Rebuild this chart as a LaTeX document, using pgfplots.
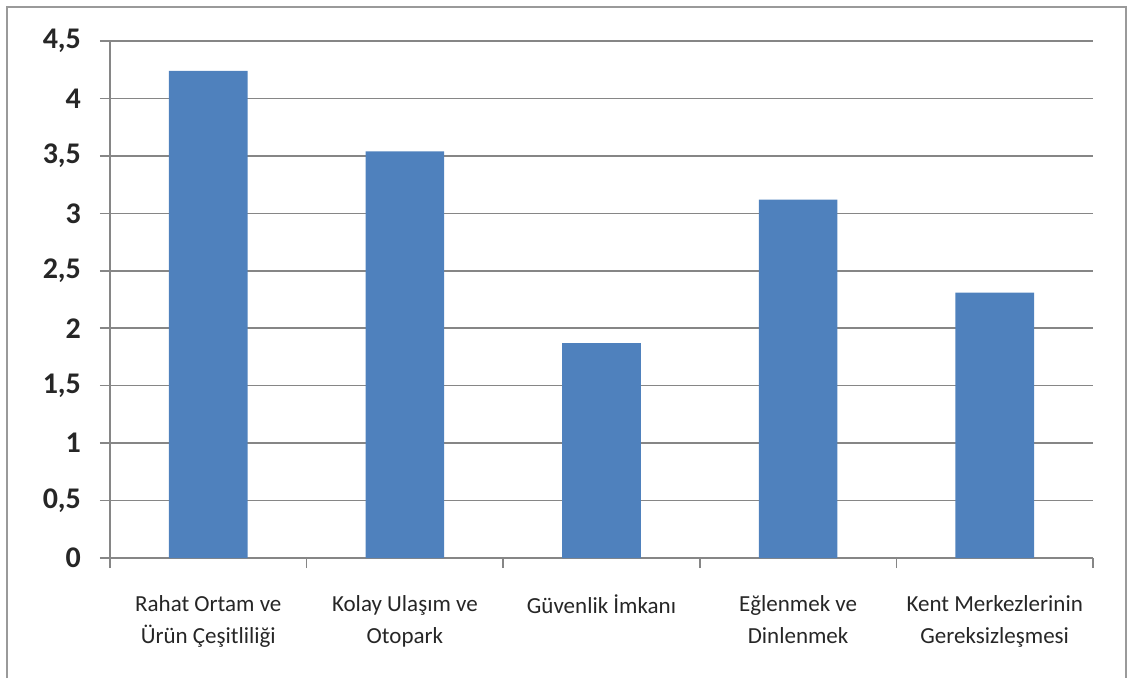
\documentclass[border=0pt]{standalone}
\usepackage{fontspec}
\setmainfont{Carlito}
\usepackage{pgfplots}
\pgfplotsset{compat=1.18}
\definecolor{barblue}{HTML}{4F81BD}
\definecolor{gridgray}{HTML}{868686}
\definecolor{framegray}{HTML}{9A9A9A}

\begin{document}
\begin{tikzpicture}
% overall canvas and chart frame
\path (-55pt,-60pt) rectangle (508.5pt,279pt);
\draw[framegray, line width=0.8pt] (-51.5pt,-60pt) -- (-51.5pt,275.5pt) -- (508pt,275.5pt) -- (508pt,-60pt);
\begin{axis}[
  at={(0pt,0pt)}, anchor=south west,
  scale only axis, width=491.5pt, height=258.5pt,
  xmin=-0.5, xmax=4.5, ymin=0, ymax=4.5,
  axis x line*=bottom, axis y line*=left,
  axis line style={gridgray, line width=0.8pt, -},
  ymajorgrids, grid style={gridgray, line width=0.8pt},
  ytick={0,0.5,1,1.5,2,2.5,3,3.5,4,4.5},
  yticklabel style={font=\fontsize{15}{17}\selectfont\bfseries, text=black!85, xshift=-6pt},
  /pgf/number format/assume math mode=true,
  /pgf/number format/use comma,
  tick align=outside, major tick length=5pt,
  tick style={gridgray, line width=0.8pt},
  % ticks sit on category boundaries, names centred between them
  xtick={-0.5,0.5,1.5,2.5,3.5,4.5},
  x tick label as interval,
  xticklabels={{Rahat Ortam ve\\Ürün Çeşitliliği},{Kolay Ulaşım  ve\\Otopark},{Güvenlik İmkanı},{Eğlenmek ve\\Dinlenmek},{Kent Merkezlerinin\\Gereksizleşmesi}},
  xticklabel style={align=center, font=\fontsize{11.5}{16}\selectfont, text=black!85, yshift=-10pt},
]
\addplot[ybar, bar width=0.4, fill=barblue, draw=none] coordinates {
  (0,4.24) (1,3.54) (2,1.87) (3,3.12) (4,2.31)
};
\end{axis}
\end{tikzpicture}
\end{document}
